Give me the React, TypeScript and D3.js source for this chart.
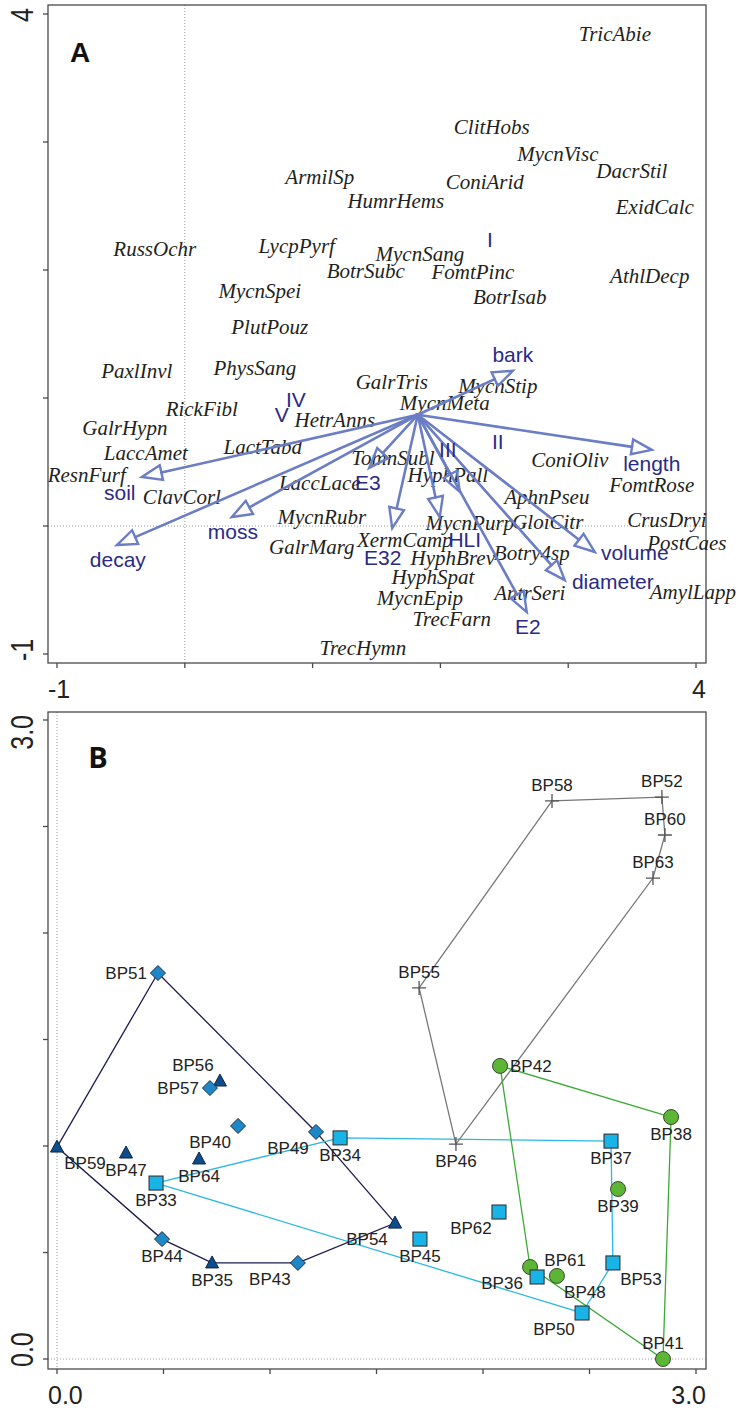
import { useEffect, useRef } from "react";
import * as d3 from "d3";

// ---- panel A: species scores ----
const speciesNames = [
  "TricAbie", "ClitHobs", "MycnVisc", "DacrStil", "ArmilSp", "ConiArid", "HumrHems", "ExidCalc",
  "RussOchr", "LycpPyrf", "MycnSang", "BotrSubc", "FomtPinc", "AthlDecp", "MycnSpei", "BotrIsab",
  "PlutPouz", "PhysSang", "PaxlInvl", "GalrTris", "MycnStip", "MycnMeta", "RickFibl", "HetrAnns",
  "GalrHypn", "LactTabd", "LaccAmet", "TomnSubl", "ConiOliv", "ResnFurf", "HyphPall", "LaccLace",
  "FomtRose", "ClavCorl", "AphnPseu", "MycnRubr", "CrusDryi", "MycnPurp", "GloiCitr", "XermCamp",
  "PostCaes", "GalrMarg", "Botry4sp", "HyphBrev", "HyphSpat", "AmylLapp", "AntrSeri", "MycnEpip",
  "TrecFarn", "TrecHymn",
];
const speciesX = [
  3.365, 2.402, 2.919, 3.498, 1.056, 2.347, 1.651, 3.678,
  -0.235, 0.876, 1.839, 1.416, 2.254, 3.638, 0.587, 2.543,
  0.665, 0.548, -0.376, 1.62, 2.449, 2.034, 0.133, 1.174,
  -0.469, 0.61, -0.305, 1.628, 3.013, -0.767, 2.058, 1.056,
  3.654, -0.023, 2.833, 1.072, 3.772, 2.23, 2.84, 1.721,
  3.928, 0.994, 2.715, 2.097, 1.941, 3.975, 2.7, 1.839,
  2.089, 1.393,
];
const speciesY = [
  3.842, 3.114, 2.903, 2.77, 2.723, 2.684, 2.535, 2.488,
  2.16, 2.183, 2.121, 1.987, 1.98, 1.948, 1.831, 1.784,
  1.549, 1.236, 1.205, 1.119, 1.095, 0.962, 0.915, 0.829,
  0.767, 0.618, 0.571, 0.532, 0.516, 0.399, 0.399, 0.336,
  0.321, 0.227, 0.227, 0.07, 0.047, 0.023, 0.031, -0.11,
  -0.133, -0.164, -0.211, -0.25, -0.399, -0.516, -0.524, -0.563,
  -0.728, -0.955,
];

// environmental variables (arrows start from a common point)
const arrowOrigin = [1.823, 0.869];
const envNames = ["soil", "decay", "moss", "E3", "E32", "HLI", "", "E2", "diameter", "volume", "length", "bark"];
const envX = [-0.336, -0.532, 0.368, 1.443, 1.623, 1.995, 2.152, 2.676, 2.973, 3.208, 3.654, 2.567];
const envY = [0.383, -0.149, 0.07, 0.454, -0.016, 0.07, 0.266, -0.673, -0.423, -0.203, 0.595, 1.213];
const envLabelX = [-0.509, -0.524, 0.376, 1.432, 1.549, 2.191, 0, 2.684, 3.349, 3.521, 3.654, 2.567];
const envLabelY = [0.258, -0.266, -0.047, 0.336, -0.25, -0.11, 0, -0.79, -0.438, -0.211, 0.485, 1.338];

// decay classes (centroids)
const classNames = ["I", "II", "III", "IV", "V"];
const classX = [2.387, 2.449, 2.058, 0.869, 0.759];
const classY = [2.238, 0.657, 0.595, 0.986, 0.869];

// ---- panel B: sites ----
const siteNames = [
  "BP51", "BP56", "BP57", "BP40", "BP59", "BP47", "BP64", "BP33",
  "BP49", "BP34", "BP44", "BP35", "BP43", "BP54", "BP42", "BP38",
  "BP46", "BP37", "BP39", "BP62", "BP45", "BP36", "BP61", "BP48",
  "BP53", "BP50", "BP41", "BP58", "BP52", "BP60", "BP63", "BP55",
];
const siteX = [
  0.474, 0.765, 0.718, 0.85, 0.0, 0.324, 0.667, 0.465,
  1.216, 1.329, 0.493, 0.728, 1.131, 1.587, 2.08, 2.883,
  1.873, 2.601, 2.634, 2.075, 1.704, 2.221, 2.254, 2.347,
  2.61, 2.465, 2.845, 2.324, 2.84, 2.854, 2.798, 1.7,
];
const siteY = [
  1.812, 1.305, 1.272, 1.094, 0.995, 0.967, 0.939, 0.826,
  1.066, 1.038, 0.563, 0.451, 0.451, 0.638, 1.376, 1.136,
  1.009, 1.023, 0.798, 0.69, 0.563, 0.432, 0.385, 0.39,
  0.451, 0.216, 0.0, 2.62, 2.638, 2.46, 2.258, 1.742,
];
const siteGroup = [
  "diamond", "triangle", "diamond", "diamond", "triangle", "triangle", "triangle", "square",
  "diamond", "square", "diamond", "triangle", "diamond", "triangle", "circle", "circle",
  "plus", "square", "circle", "square", "square", "circle", "square", "circle",
  "square", "square", "circle", "plus", "plus", "plus", "plus", "plus",
];
const siteLabelPos = [
  "w", "nw", "w", "sw", "se", "s", "s", "s",
  "sw", "s", "s", "s", "sw", "sw", "e", "s",
  "s", "s", "s", "sw", "s", "sw", "ne", "se",
  "se", "sw", "n", "n", "n", "n", "n", "n",
];

const hullSets = [
  { groups: ["diamond", "triangle"], color: "#1c1b4d" },
  { groups: ["square"], color: "#2db7e2" },
  { groups: ["circle"], color: "#3aaa35" },
  { groups: ["plus"], color: "#76777a" },
];

const arrowColor = "#6a7dc5";
const envColor = "#2b2a86";
const frameColor = "#4a4a4a";

export default function App() {
  const ref = useRef(null);

  useEffect(() => {
    d3.select(ref.current).selectAll("*").remove();
    const svg = d3
      .select(ref.current)
      .append("svg")
      .attr("width", 740)
      .attr("height", 1410)
      .style("position", "absolute")
      .style("left", 0)
      .style("top", 0)
      .style("background", "#fff");

    const left = 48;
    const right = 706;

    // frame, ticks, zero lines and end labels for one panel
    function drawFrame(x, y, top, bottom, ticksX, ticksY, labX, labY) {
      const g = svg.append("g");
      // dotted zero lines
      g.append("line")
        .attr("x1", x(0)).attr("x2", x(0))
        .attr("y1", top).attr("y2", bottom)
        .attr("stroke", "#9a9a9a").attr("stroke-width", 1)
        .attr("stroke-dasharray", "1,2");
      g.append("line")
        .attr("x1", left).attr("x2", right)
        .attr("y1", y(0)).attr("y2", y(0))
        .attr("stroke", "#9a9a9a").attr("stroke-width", 1)
        .attr("stroke-dasharray", "1,2");
      g.append("rect")
        .attr("x", left).attr("y", top)
        .attr("width", right - left).attr("height", bottom - top)
        .attr("fill", "none").attr("stroke", frameColor).attr("stroke-width", 1.3);
      g.selectAll(".tx").data(ticksX).enter().append("line")
        .attr("x1", (d) => x(d)).attr("x2", (d) => x(d))
        .attr("y1", bottom).attr("y2", bottom + 5)
        .attr("stroke", frameColor).attr("stroke-width", 1.3);
      g.selectAll(".ty").data(ticksY).enter().append("line")
        .attr("x1", left - 5).attr("x2", left)
        .attr("y1", (d) => y(d)).attr("y2", (d) => y(d))
        .attr("stroke", frameColor).attr("stroke-width", 1.3);

      const font = "'Liberation Sans', Arial, sans-serif";
      // x end labels
      g.append("text").text(labX[0])
        .attr("x", left).attr("y", bottom + 35)
        .attr("font-family", font).attr("font-size", 25).attr("fill", "#222");
      g.append("text").text(labX[1])
        .attr("x", right).attr("y", bottom + 35).attr("text-anchor", "end")
        .attr("font-family", font).attr("font-size", 25).attr("fill", "#222");
      // y end labels, rotated
      g.append("text").text(labY[1])
        .attr("transform", `translate(33,${top + 3}) rotate(-90) scale(1,1.25)`)
        .attr("text-anchor", "end")
        .attr("font-family", font).attr("font-size", 25).attr("fill", "#222");
      g.append("text").text(labY[0])
        .attr("transform", `translate(33,${bottom - 2}) rotate(-90) scale(1,1.25)`)
        .attr("text-anchor", "start")
        .attr("font-family", font).attr("font-size", 25).attr("fill", "#222");
    }

    // ================= panel A =================
    const xA = d3.scaleLinear().domain([-1, 4]).range([57, 696]);
    const yA = d3.scaleLinear().domain([-1, 4]).range([654, 14]);
    drawFrame(xA, yA, 5, 663, d3.range(-1, 5), d3.range(-1, 5), ["-1", "4"], ["-1", "4"]);

    svg.append("text").text("A")
      .attr("x", 80).attr("y", 52).attr("dy", "0.35em").attr("text-anchor", "middle")
      .attr("font-family", "'Liberation Sans', Arial, sans-serif")
      .attr("font-weight", "bold").attr("font-size", 28).attr("fill", "#111");

    // species names
    svg.append("g").selectAll("text").data(speciesNames).enter().append("text")
      .text((d) => d)
      .attr("x", (d, i) => xA(speciesX[i]))
      .attr("y", (d, i) => yA(speciesY[i]))
      .attr("dy", "0.32em")
      .attr("text-anchor", "middle")
      .attr("font-family", "'Liberation Serif', 'Times New Roman', serif")
      .attr("font-style", "italic")
      .attr("font-size", 21)
      .attr("fill", "#231f20");

    // arrows
    const ox = xA(arrowOrigin[0]);
    const oy = yA(arrowOrigin[1]);
    const arrows = svg.append("g");
    envNames.forEach((name, i) => {
      const tx = xA(envX[i]);
      const ty = yA(envY[i]);
      const len = Math.hypot(tx - ox, ty - oy);
      const ux = (tx - ox) / len;
      const uy = (ty - oy) / len;
      const headL = 20;
      const headW = 7.5;
      const bx = tx - ux * headL;
      const by = ty - uy * headL;
      arrows.append("line")
        .attr("x1", ox).attr("y1", oy).attr("x2", bx).attr("y2", by)
        .attr("stroke", arrowColor).attr("stroke-width", 2.6).attr("stroke-linecap", "round");
      arrows.append("path")
        .attr("d", d3.line()([
          [tx, ty],
          [bx - uy * headW, by + ux * headW],
          [bx + uy * headW, by - ux * headW],
          [tx, ty],
        ]) + "Z")
        .attr("fill", "none").attr("stroke", arrowColor)
        .attr("stroke-width", 2.4).attr("stroke-linejoin", "miter");
    });

    // arrow labels and class centroids
    const blueFont = "'Liberation Sans', Arial, sans-serif";
    svg.append("g").selectAll("text").data(envNames.filter((d) => d !== "")).enter().append("text")
      .text((d) => d)
      .attr("x", (d) => xA(envLabelX[envNames.indexOf(d)]))
      .attr("y", (d) => yA(envLabelY[envNames.indexOf(d)]))
      .attr("dy", "0.35em").attr("text-anchor", "middle")
      .attr("font-family", blueFont).attr("font-size", 21).attr("fill", envColor);
    svg.append("g").selectAll("text").data(classNames).enter().append("text")
      .text((d) => d)
      .attr("x", (d, i) => xA(classX[i]))
      .attr("y", (d, i) => yA(classY[i]))
      .attr("dy", "0.35em").attr("text-anchor", "middle")
      .attr("font-family", blueFont).attr("font-size", 21).attr("fill", envColor);

    // ================= panel B =================
    const xB = d3.scaleLinear().domain([0, 3]).range([57, 696]);
    const yB = d3.scaleLinear().domain([0, 3]).range([1359, 720]);
    const tB = d3.range(0, 3.01, 0.5);
    drawFrame(xB, yB, 712, 1369, tB, tB, ["0.0", "3.0"], ["0.0", "3.0"]);

    svg.append("text").text("B")
      .attr("x", 98).attr("y", 758).attr("dy", "0.36em").attr("text-anchor", "middle")
      .attr("font-family", "'Open Sans', Arial, sans-serif")
      .attr("font-weight", "bold").attr("font-size", 29).attr("fill", "#111");

    const sites = siteNames.map((name, i) => ({
      name,
      x: xB(siteX[i]),
      y: yB(siteY[i]),
      group: siteGroup[i],
      pos: siteLabelPos[i],
    }));

    // convex hulls around each group
    const hulls = svg.append("g");
    hullSets.forEach((h) => {
      const pts = sites.filter((s) => h.groups.includes(s.group)).map((s) => [s.x, s.y]);
      const hull = d3.polygonHull(pts);
      if (!hull) return;
      hulls.append("path")
        .attr("d", "M" + hull.map((p) => p.join(",")).join("L") + "Z")
        .attr("fill", "none").attr("stroke", h.color).attr("stroke-width", 1.3);
    });

    // markers
    const marks = svg.append("g");
    sites.forEach((s) => {
      if (s.group === "circle") {
        marks.append("circle").attr("cx", s.x).attr("cy", s.y).attr("r", 7.5)
          .attr("fill", "#5db535").attr("stroke", "#3b4a33").attr("stroke-width", 1);
      } else if (s.group === "square") {
        marks.append("rect").attr("x", s.x - 7).attr("y", s.y - 7)
          .attr("width", 14).attr("height", 14)
          .attr("fill", "#18b4e8").attr("stroke", "#333").attr("stroke-width", 1.1);
      } else if (s.group === "diamond") {
        const r = 7.5;
        marks.append("path")
          .attr("d", `M${s.x},${s.y - r}L${s.x + r},${s.y}L${s.x},${s.y + r}L${s.x - r},${s.y}Z`)
          .attr("fill", "#1e87c8").attr("stroke", "#1d2b45").attr("stroke-width", 1);
      } else if (s.group === "triangle") {
        marks.append("path")
          .attr("d", `M${s.x},${s.y - 7}L${s.x + 6.5},${s.y + 5}L${s.x - 6.5},${s.y + 5}Z`)
          .attr("fill", "#0f4c8b").attr("stroke", "#0b2745").attr("stroke-width", 1);
      } else {
        marks.append("path")
          .attr("d", `M${s.x - 7},${s.y}H${s.x + 7}M${s.x},${s.y - 7}V${s.y + 7}`)
          .attr("stroke", "#555").attr("stroke-width", 1.3);
      }
    });

    // labels
    const offs = {
      n: [0, -16, "middle"],
      s: [0, 17, "middle"],
      w: [-11, 0, "end"],
      e: [10, 0, "start"],
      nw: [-27, -16, "middle"],
      sw: [-28, 16, "middle"],
      se: [28, 16, "middle"],
      ne: [28, -17, "middle"],
    };
    svg.append("g").selectAll("text").data(sites).enter().append("text")
      .text((d) => d.name)
      .attr("x", (d) => d.x + offs[d.pos][0])
      .attr("y", (d) => d.y + offs[d.pos][1])
      .attr("dy", "0.35em")
      .attr("text-anchor", (d) => offs[d.pos][2])
      .attr("font-family", "'Liberation Sans', Arial, sans-serif")
      .attr("font-size", 17)
      .attr("fill", "#222");
  }, []);

  return <div ref={ref}></div>;
}
